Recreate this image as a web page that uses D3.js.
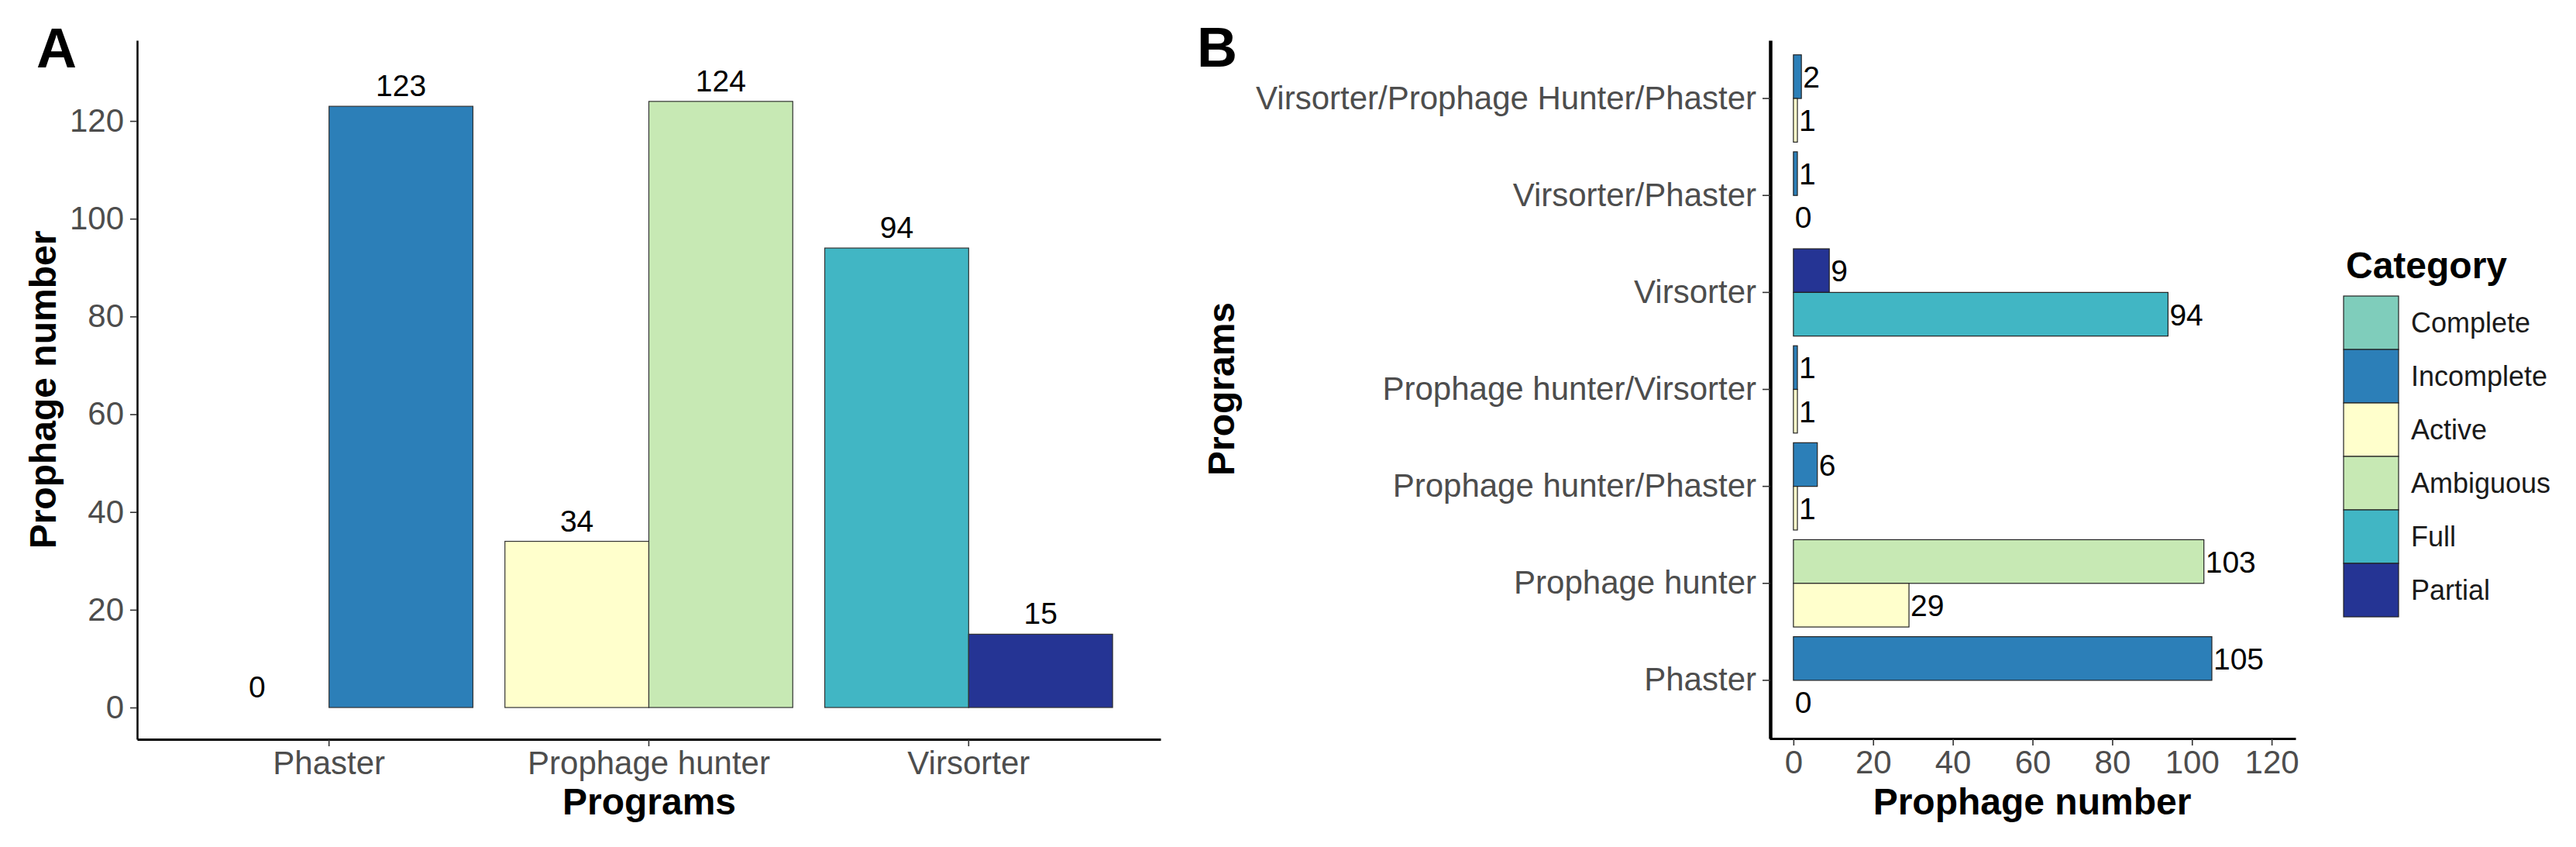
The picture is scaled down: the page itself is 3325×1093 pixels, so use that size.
<!DOCTYPE html>
<html><head><meta charset="utf-8">
<script src="https://cdn.jsdelivr.net/npm/d3@7"></script>
<style>html,body{margin:0;padding:0;background:#fff;} text{font-family:"Liberation Sans",Arial,sans-serif;}</style>
</head><body>
<script>
// ---- data ----
const categories = ["Complete","Incomplete","Active","Ambiguous","Full","Partial"];
const categoryColors = ["#7fcdbb","#2c7fb8","#ffffcc","#c7e9b4","#41b6c4","#253494"];

// Panel A
const programsA = ["Phaster","Prophage hunter","Virsorter"];
const firstCatA = ["Complete","Active","Full"];
const firstValA = [0,34,94];
const secondCatA = ["Incomplete","Ambiguous","Partial"];
const secondValA = [123,124,15];
const ticksA = [0,20,40,60,80,100,120];

// Panel B (top to bottom)
const programsB = ["Virsorter/Prophage Hunter/Phaster","Virsorter/Phaster","Virsorter",
  "Prophage hunter/Virsorter","Prophage hunter/Phaster","Prophage hunter","Phaster"];
const upperCatB = ["Incomplete","Incomplete","Partial","Incomplete","Incomplete","Ambiguous","Incomplete"];
const upperValB = [2,1,9,1,6,103,105];
const lowerCatB = ["Active","Complete","Full","Active","Active","Active","Complete"];
const lowerValB = [1,0,94,1,1,29,0];
const ticksB = [0,20,40,60,80,100,120];

// ---- drawing ----
const W = 3325, H = 1093;
const svg = d3.select("body").append("svg").attr("width",W).attr("height",H);
svg.append("rect").attr("width",W).attr("height",H).attr("fill","#fff");
const color = d3.scaleOrdinal().domain(categories).range(categoryColors);
const tickColor = "#4d4d4d";

function styleAxis(g, lineW){
  g.select(".domain").attr("stroke","#000").attr("stroke-width",lineW);
  g.selectAll(".tick line").attr("stroke","#333").attr("stroke-width",1.6);
  g.selectAll(".tick text").attr("fill",tickColor).attr("font-size",42)
    .attr("font-family","'Liberation Sans',Arial,sans-serif");
}

// ===== Panel A =====
const xA = d3.scaleBand().domain(programsA).range([177,1498]).paddingInner(0.1).paddingOuter(0.15);
const subA = d3.scaleBand().domain([0,1]).range([0,xA.bandwidth()]);
const yA = d3.scaleLinear().domain([-6.5,136.5]).range([954,52]);

const barsA = [];
programsA.forEach((p,i)=>{
  barsA.push({prog:p, k:0, cat:firstCatA[i], val:firstValA[i]});
  barsA.push({prog:p, k:1, cat:secondCatA[i], val:secondValA[i]});
});
const gA = svg.append("g");
gA.selectAll("rect.bar").data(barsA).join("rect").attr("class","bar")
  .attr("x",d=>xA(d.prog)+subA(d.k)).attr("width",subA.bandwidth())
  .attr("y",d=>yA(d.val)).attr("height",d=>yA(0)-yA(d.val))
  .attr("fill",d=>color(d.cat))
  .attr("stroke",d=>d.val===0?"#cccccc":"#333").attr("stroke-width",1.2);
gA.selectAll("text.val").data(barsA).join("text").attr("class","val")
  .attr("x",d=>xA(d.prog)+subA(d.k)+subA.bandwidth()/2)
  .attr("y",d=>yA(d.val)-13).attr("text-anchor","middle")
  .attr("font-size",39).attr("fill","#000").text(d=>d.val);

const axYA = svg.append("g").attr("transform","translate(177,0)")
  .call(d3.axisLeft(yA).tickValues(ticksA).tickSize(9).tickPadding(8).tickSizeOuter(0));
styleAxis(axYA, 2.5);
const axXA = svg.append("g").attr("transform","translate(0,954)")
  .call(d3.axisBottom(xA).tickSize(9).tickPadding(6).tickSizeOuter(0));
styleAxis(axXA, 3);

svg.append("text").attr("x",838).attr("y",1051).attr("text-anchor","middle")
  .attr("font-size",48).attr("font-weight","bold").attr("fill","#000").text("Programs");
svg.append("text").attr("transform","translate(72,503) rotate(-90)").attr("text-anchor","middle")
  .attr("font-size",48).attr("font-weight","bold").attr("fill","#000").text("Prophage number");
svg.append("text").attr("x",47).attr("y",87).attr("font-size",72).attr("font-weight","bold")
  .attr("fill","#000").text("A");

// ===== Panel B =====
const yB = d3.scaleBand().domain(programsB).range([52,953]).paddingInner(0.1).paddingOuter(0.15);
const subB = d3.scaleBand().domain([0,1]).range([0,yB.bandwidth()]);
const xB = d3.scaleLinear().domain([-6,126]).range([2284,2963]);

const barsB = [];
programsB.forEach((p,i)=>{
  barsB.push({prog:p, k:0, cat:upperCatB[i], val:upperValB[i]});
  barsB.push({prog:p, k:1, cat:lowerCatB[i], val:lowerValB[i]});
});
const gB = svg.append("g");
gB.selectAll("rect.bar").data(barsB).join("rect").attr("class","bar")
  .attr("y",d=>yB(d.prog)+subB(d.k)).attr("height",subB.bandwidth())
  .attr("x",xB(0)).attr("width",d=>xB(d.val)-xB(0))
  .attr("fill",d=>color(d.cat)).attr("stroke","#222").attr("stroke-width",1.2);
gB.selectAll("text.val").data(barsB).join("text").attr("class","val")
  .attr("x",d=>xB(d.val)+2)
  .attr("y",d=>yB(d.prog)+subB(d.k)+subB.bandwidth()/2).attr("dy","0.36em")
  .attr("font-size",39).attr("fill","#000").text(d=>d.val);

const axYB = svg.append("g").attr("transform","translate(2285,0)")
  .call(d3.axisLeft(yB).tickSize(10).tickPadding(8).tickSizeOuter(0));
styleAxis(axYB, 4.5);
const axXB = svg.append("g").attr("transform","translate(0,953)")
  .call(d3.axisBottom(xB).tickValues(ticksB).tickSize(9).tickPadding(6).tickSizeOuter(0));
styleAxis(axXB, 3);

svg.append("text").attr("x",2623).attr("y",1051).attr("text-anchor","middle")
  .attr("font-size",48).attr("font-weight","bold").attr("fill","#000").text("Prophage number");
svg.append("text").attr("transform","translate(1593,502) rotate(-90)").attr("text-anchor","middle")
  .attr("font-size",48).attr("font-weight","bold").attr("fill","#000").text("Programs");
svg.append("text").attr("x",1545).attr("y",86).attr("font-size",72).attr("font-weight","bold")
  .attr("fill","#000").text("B");

// ===== Legend =====
const lg = svg.append("g");
lg.append("text").attr("x",3028).attr("y",359).attr("font-size",48).attr("font-weight","bold")
  .attr("fill","#000").text("Category");
const keyH = 69, keyW = 71, keyY0 = 382, keyX = 3025;
lg.selectAll("rect.key").data(categories).join("rect").attr("class","key")
  .attr("x",keyX).attr("y",(d,i)=>keyY0+i*keyH).attr("width",keyW).attr("height",keyH)
  .attr("fill",d=>color(d)).attr("stroke","#222").attr("stroke-width",1.2);
lg.selectAll("text.lab").data(categories).join("text").attr("class","lab")
  .attr("x",3112).attr("y",(d,i)=>keyY0+i*keyH+keyH/2).attr("dy","0.36em")
  .attr("font-size",36).attr("fill","#1a1a1a").text(d=>d);
</script>
</body></html>
